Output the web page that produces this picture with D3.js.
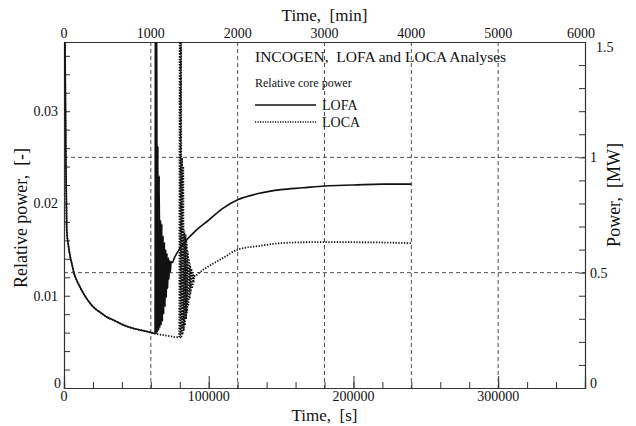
<!DOCTYPE html>
<html><head><meta charset="utf-8">
<script src="https://cdn.jsdelivr.net/npm/d3@7"></script>
<style>body{margin:0;background:#fff}svg{display:block}text{font-family:"Liberation Serif","Times New Roman",serif;fill:#111;white-space:pre}</style>
</head><body>
<svg id="c" width="636" height="426"></svg>
<script>
// ---- data ----
const lofaT = [0,300,700,1200,1900,3000,4200,5300,7000,9000,11000,14000,17000,20250,25000,29500,35000,41000,47000,52500,58000,62900,
  63200,63600,64000,64400,64900,65300,65800,66200,66700,67100,67600,68000,68500,68900,69400,69800,70300,70700,71200,71600,72100,72500,73000,73500,74000,75000,
  76000,80000,85000,90000,100000,110000,120000,135000,150000,165000,180000,200000,220000,240000];
const lofaV = [0.060,0.045,0.0374,0.027,0.0171,0.0155,0.0143,0.01355,0.0124,0.0116,0.01095,0.0101,0.0094,0.00878,0.0082,0.0077,0.0073,0.00683,0.0065,0.00629,0.0061,0.0059,
  0.045,0.0058,0.045,0.0060,0.0262,0.0062,0.0230,0.0065,0.0182,0.0068,0.0178,0.0072,0.0165,0.0080,0.0158,0.0088,0.0150,0.0098,0.0146,0.0108,0.0141,0.0118,0.0138,0.0126,0.0137,0.0136,
  0.0140,0.0151,0.0161,0.0169,0.0182,0.0195,0.0204,0.0211,0.0215,0.0217,0.0219,0.0220,0.0221,0.0221];
const locaT = [0,300,700,1200,1900,3000,4200,5300,7000,9000,11000,14000,17000,20250,25000,29500,35000,41000,47000,52500,58000,62900,
  66000,70000,74000,78000,79600,
  80000,80400,80800,81200,81600,82000,82400,82800,83200,83600,84000,84400,84800,85200,85600,86000,86400,86800,87200,87600,88000,88500,89000,89500,90000,90500,
  92000,96000,100000,110000,120000,135000,150000,170000,200000,240000];
const locaV = [0.060,0.045,0.0374,0.027,0.0171,0.0155,0.0143,0.01355,0.0124,0.0116,0.01095,0.0101,0.0094,0.00878,0.0082,0.0077,0.0073,0.00683,0.0065,0.00629,0.0061,0.0059,
  0.0058,0.0057,0.0056,0.0055,0.0055,
  0.045,0.0055,0.045,0.0056,0.0249,0.0058,0.0240,0.0062,0.0170,0.0068,0.0166,0.0075,0.0158,0.0082,0.0148,0.0090,0.0140,0.0097,0.0134,0.0103,0.0129,0.0108,0.0125,0.0113,0.0123,0.0121,
  0.0123,0.0128,0.0132,0.0141,0.0150,0.0154,0.0157,0.0158,0.0158,0.0157];
const bottomTickLabels = [0,100000,200000,300000];
const topTickLabels = [0,1000,2000,3000,4000,5000,6000];
const leftTickLabels = [0,0.01,0.02,0.03];
const rightTickLabels = [0,0.5,1,1.5];
const gridMin = [1000,2000,3000,4000,5000];
const gridMW = [0.5,1];
const legendTitle = "INCOGEN,  LOFA and LOCA Analyses";
const legendSub = "Relative core power";
const seriesNames = ["LOFA","LOCA"];

// ---- layout ----
const L=64,R=585,T=42,B=388;
const svg=d3.select("#c");
const x=d3.scaleLinear().domain([0,360000]).range([L,R]);
const xm=d3.scaleLinear().domain([0,6000]).range([L,R]);
const y=d3.scaleLinear().domain([0,0.0375]).range([B,T]);
const yr=d3.scaleLinear().domain([0,1.5]).range([B,T]);

// grid
const g=svg.append("g").attr("stroke","#222").attr("stroke-width",0.8).attr("stroke-dasharray","4,3");
gridMin.forEach(m=>g.append("line").attr("x1",xm(m)).attr("x2",xm(m)).attr("y1",T).attr("y2",B));
gridMW.forEach(v=>g.append("line").attr("x1",L).attr("x2",R).attr("y1",yr(v)).attr("y2",yr(v)));

// axes (ticks inward)
const ax=svg.append("g").attr("fill","none");
ax.append("g").attr("transform",`translate(0,${B})`)
  .call(d3.axisBottom(x).tickValues(d3.range(0,360001,20000)).tickSize(-6).tickFormat(""));
ax.append("g").attr("transform",`translate(0,${B})`)
  .call(d3.axisBottom(x).tickValues(d3.range(100000,300001,100000)).tickSize(-12).tickFormat(""));
ax.append("g").attr("transform",`translate(0,${T})`)
  .call(d3.axisTop(xm).tickValues([]).tickSize(0));
ax.append("g").attr("transform",`translate(${L},0)`)
  .call(d3.axisLeft(y).tickValues(d3.range(0,0.0375,0.002)).tickSize(-6).tickFormat(""));
ax.append("g").attr("transform",`translate(${R},0)`)
  .call(d3.axisRight(yr).tickValues(d3.range(0,1.5001,0.1)).tickSize(-6).tickFormat(""));
svg.selectAll(".domain").attr("stroke","#333").attr("stroke-width",1.2);
svg.selectAll(".tick line").attr("stroke","#333").attr("stroke-width",1);
svg.selectAll(".tick text").remove();

// tick labels
const fs=14;
bottomTickLabels.forEach(v=>svg.append("text").attr("x",x(v)).attr("y",401).attr("text-anchor","middle").attr("font-size",fs).text(v));
topTickLabels.forEach(v=>svg.append("text").attr("x",xm(v)+(v===6000?-4:0)).attr("y",38).attr("text-anchor","middle").attr("font-size",fs).text(v));
leftTickLabels.forEach(v=>svg.append("text").attr("x",v===0?61:58).attr("y",y(v)+(v===0?0:5)).attr("text-anchor","end").attr("font-size",fs).text(v));
rightTickLabels.forEach(v=>svg.append("text").attr("x",v===1.5?596:590).attr("y",yr(v)+(v===0?0:5)+(v===1.5?5:0)).attr("text-anchor","start").attr("font-size",fs).text(v));

// axis titles
svg.append("text").attr("x",(L+R)/2).attr("y",421).attr("text-anchor","middle").attr("font-size",17).text("Time,  [s]");
svg.append("text").attr("x",(L+R)/2).attr("y",21).attr("text-anchor","middle").attr("font-size",17).text("Time,  [min]");
svg.append("text").attr("transform","translate(27,218) rotate(-90)").attr("text-anchor","middle").attr("font-size",18).text("Relative power,  [-]");
svg.append("text").attr("transform","translate(620,195) rotate(-90)").attr("text-anchor","middle").attr("font-size",18).text("Power,  [MW]");

// data lines
svg.append("clipPath").attr("id","clip").append("rect").attr("x",L).attr("y",T).attr("width",R-L).attr("height",B-T);
const line=d3.line().x(d=>x(d[0])).y(d=>y(d[1])).curve(d3.curveMonotoneX);
const pl=svg.append("g").attr("clip-path","url(#clip)").attr("fill","none");
pl.append("path").datum(d3.zip(locaT,locaV)).attr("d",line).attr("stroke","#111").attr("stroke-width",1.8).attr("stroke-dasharray","1.3,1.5");
pl.append("path").datum(d3.zip(lofaT,lofaV)).attr("d",line).attr("stroke","#111").attr("stroke-width",1.6);

// legend
svg.append("text").attr("x",255).attr("y",62).attr("font-size",15.5).text(legendTitle);
svg.append("text").attr("x",255).attr("y",87).attr("font-size",12).text(legendSub);
svg.append("line").attr("x1",255).attr("x2",316).attr("y1",105).attr("y2",105).attr("stroke","#111").attr("stroke-width",1.4);
svg.append("line").attr("x1",255).attr("x2",316).attr("y1",122).attr("y2",122).attr("stroke","#111").attr("stroke-width",1.5).attr("stroke-dasharray","1.2,1.3");
svg.append("text").attr("x",322).attr("y",110).attr("font-size",14).text(seriesNames[0]);
svg.append("text").attr("x",322).attr("y",127).attr("font-size",14).text(seriesNames[1]);
</script>
</body></html>
